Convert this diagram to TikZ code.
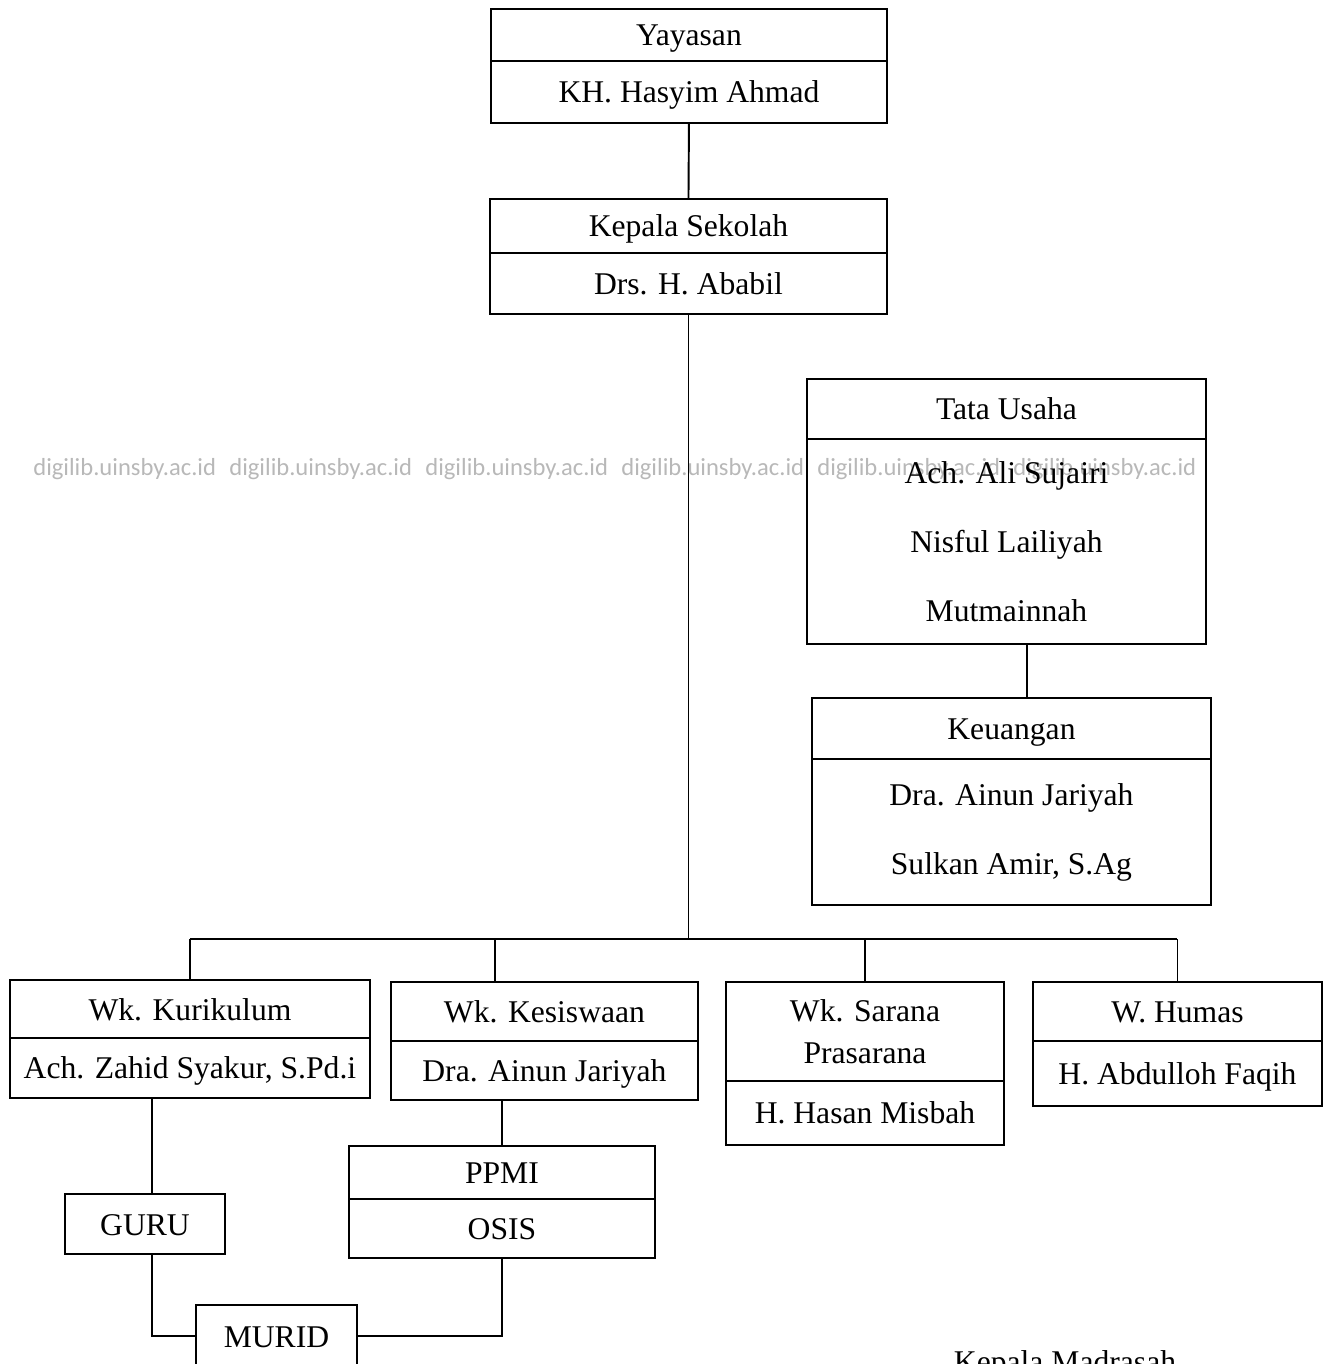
\documentclass[tikz,border=0pt]{standalone}
\usepackage{fontspec}
\setmainfont{Liberation Serif}
\newfontfamily\wmfont{Carlito}
\usepackage{tikz}
\usetikzlibrary{positioning}

\begin{document}
\begin{tikzpicture}[
      x=0.02cm, y=-0.02cm,
      frame/.style={rectangle, draw=black, line width=1.1pt, inner sep=0pt, outer sep=0pt, align=center, font=\fontsize{18}{23.8}\selectfont},
      box/.style={frame, text height=0.5cm, text depth=0.06cm},
      head/.style={box, anchor=north west},
      list/.style={frame, font=\fontsize{18}{39.3}\selectfont},
      link/.style={line width=1.1pt},
      wmark/.style={anchor=west, inner sep=0pt, text=black!28, font=\wmfont\fontsize{14}{16}\selectfont},
    ]
    \useasboundingbox (0,0) rectangle (1323,1364);

    \foreach \i in {0,...,5}
      \node[wmark] (wm\i) at (33+196*\i,469) {digilib.uinsby.ac.id};

    \node[head, minimum width=7.92cm, minimum height=1.04cm] (yay) at (491,9) {Yayasan};
    \node[box, below=0pt of yay, minimum width=7.92cm, minimum height=1.24cm] (yayn) {KH. Hasyim Ahmad};
    \node[head, minimum width=7.94cm, minimum height=1.08cm] (kep) at (490,199) {Kepala Sekolah};
    \node[box, below=0pt of kep, minimum width=7.94cm, minimum height=1.22cm] (kepn) {Drs. H. Ababil};

    \node[head, minimum width=7.98cm, minimum height=1.2cm] (tu) at (807,379) {Tata Usaha};
    \node[list, below=0pt of tu, minimum width=7.98cm, minimum height=4.1cm] (tun) {Ach. Ali Sujairi\\Nisful Lailiyah\\Mutmainnah};
    \node[head, minimum width=7.98cm, minimum height=1.22cm] (keu) at (812,698) {Keuangan};
    \node[list, below=0pt of keu, minimum width=7.98cm, minimum height=2.92cm] (keun) {Dra. Ainun Jariyah\\Sulkan Amir, S.Ag};

    \node[head, minimum width=7.2cm, minimum height=1.16cm] (kur) at (10,980) {Wk. Kurikulum};
    \node[box, below=0pt of kur, minimum width=7.2cm, minimum height=1.2cm] (kurn) {Ach. Zahid Syakur, S.Pd.i};
    \node[head, minimum width=6.14cm, minimum height=1.18cm] (kes) at (391,982) {Wk. Kesiswaan};
    \node[box, below=0pt of kes, minimum width=6.14cm, minimum height=1.18cm] (kesn) {Dra. Ainun Jariyah};
    \node[frame, anchor=north west, minimum width=5.56cm, minimum height=1.98cm] (sar) at (726,982) {Wk. Sarana\\Prasarana};
    \node[box, below=0pt of sar, minimum width=5.56cm, minimum height=1.28cm] (sarn) {H. Hasan Misbah};
    \node[head, minimum width=5.78cm, minimum height=1.18cm] (hum) at (1033,982) {W. Humas};
    \node[box, below=0pt of hum, minimum width=5.78cm, minimum height=1.3cm] (humn) {H. Abdulloh Faqih};

    \node[head, minimum width=3.2cm, minimum height=1.2cm] (guru) at (65,1194) {GURU};
    \node[head, minimum width=6.12cm, minimum height=1.06cm] (ppmi) at (349,1146) {PPMI};
    \node[box, below=0pt of ppmi, minimum width=6.12cm, minimum height=1.18cm] (ppmin) {OSIS};
    \node[head, minimum width=3.22cm, minimum height=1.24cm] (murid) at (196,1305) {MURID};

    \node[anchor=base, inner sep=0pt, font=\fontsize{18}{22}\selectfont] (kpm) at (1065,1372) {Kepala Madrasah};

    \draw[link] (yayn.south) -- (kep.north);
    \coordinate (bus) at (690,939);
    \draw[link] (kepn.south) -- (kepn.south |- bus);
    \draw[link] (kur.north |- bus) -- (hum.north |- bus);
    \draw[link] (kur.north) -- (kur.north |- bus);
    \coordinate (kesdrop) at ([xshift=-0.99cm]kes.north);
    \draw[link] (kesdrop) -- (kesdrop |- bus);
    \draw[link] (sar.north) -- (sar.north |- bus);
    \draw[link] (hum.north) -- (hum.north |- bus);
    \draw[link] ([xshift=0.41cm]tun.south) -- ([xshift=0.41cm]tun.south |- keu.north);
    \coordinate (gurutop) at ([xshift=0.14cm]guru.north);
    \draw[link] (kurn.south -| gurutop) -- (gurutop);
    \draw[link] ([xshift=0.14cm]guru.south) |- (murid.west);
    \draw[link] (murid.east) -| (ppmin.south);
    \draw[link] (kesn.south -| ppmi.north) -- (ppmi.north);
  \end{tikzpicture}
\end{document}
